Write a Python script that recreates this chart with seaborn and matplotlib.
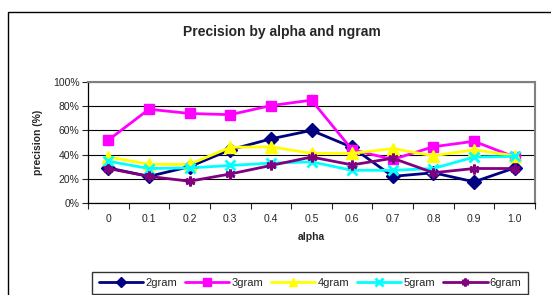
import matplotlib
matplotlib.use("Agg")
import matplotlib.pyplot as plt
from matplotlib.patches import Rectangle
from matplotlib.ticker import FixedLocator, PercentFormatter
import numpy as np
import pandas as pd
import seaborn as sns

alpha_labels = ["0", "0.1", "0.2", "0.3", "0.4", "0.5", "0.6", "0.7", "0.8", "0.9", "1.0"]
gram_2 = [29, 22, 30, 44, 53, 60, 46, 22, 25, 17.5, 29]
gram_3 = [52, 77.5, 74, 73, 80.5, 85, 44, 36, 46.5, 51, 38]
gram_4 = [38, 32, 32, 46, 46.5, 41, 41, 45, 39, 44, 39]
gram_5 = [34.5, 28.5, 29, 31, 33, 34, 27, 27, 28.5, 38, 38.5]
gram_6 = [28.5, 22, 18, 24, 31, 38, 31.5, 37, 25, 28.5, 28.5]

series = {"2gram": gram_2, "3gram": gram_3, "4gram": gram_4, "5gram": gram_5, "6gram": gram_6}
colors = {"2gram": "#000080", "3gram": "#FF00FF", "4gram": "#FFFF00",
          "5gram": "#00FFFF", "6gram": "#800080"}
markers = {"2gram": "D", "3gram": "s", "4gram": "^", "5gram": "x", "6gram": (6, 2, 0)}

rows = []
for name, vals in series.items():
    for i, v in enumerate(vals):
        rows.append({"pos": i, "ngram": name, "precision": v})
df = pd.DataFrame(rows)

sns.set_style("white")
plt.rcParams["font.family"] = ["Liberation Sans", "DejaVu Sans"]

fig = plt.figure(figsize=(5.51, 2.95), dpi=100)
ax = fig.add_axes([88 / 551, 1 - 203 / 295, (535 - 88) / 551, (203 - 82) / 295])

# outer chart frame
fig.patches.append(Rectangle((8 / 551, -0.1), 1.2, 1 - 12 / 295 + 0.1,
                             transform=fig.transFigure, fill=False,
                             edgecolor="black", linewidth=1.0))

for name in series:
    sub = df[df["ngram"] == name]
    sns.lineplot(data=sub, x="pos", y="precision", ax=ax, color=colors[name],
                 marker=markers[name], markersize=7 if name != "4gram" else 8,
                 markeredgecolor=colors[name], markeredgewidth=2 if name in ("5gram", "6gram") else 1,
                 linewidth=2, label=name)

ax.set_xlim(-0.5, 10.5)
ax.set_ylim(0, 100)
ax.set_yticks(np.arange(0, 101, 20))
ax.yaxis.set_major_formatter(PercentFormatter(decimals=0))
ax.set_xticks(range(len(alpha_labels)))
ax.set_xticklabels(alpha_labels)
ax.xaxis.set_minor_locator(FixedLocator(np.arange(-0.5, 11, 1)))
ax.tick_params(axis="x", which="major", length=0, pad=8, labelsize=7.5)
ax.tick_params(axis="x", which="minor", length=4, width=0.8, direction="out", bottom=True)
ax.tick_params(axis="y", length=4, width=0.8, direction="out", left=True, labelsize=7.5, pad=2)
ax.grid(axis="y", color="black", linewidth=0.8)
ax.set_axisbelow(True)
for side in ("left", "bottom"):
    ax.spines[side].set_color("black")
    ax.spines[side].set_linewidth(0.9)
for side in ("top", "right"):
    ax.spines[side].set_color("#808080")
    ax.spines[side].set_linewidth(1.5)

ax.set_xlabel("alpha", fontsize=7.5, fontweight="bold", labelpad=6)
ax.set_ylabel("precision (%)", fontsize=7.5, fontweight="bold", labelpad=7)
fig.text(282 / 551, 1 - 32 / 295, "Precision by alpha and ngram", ha="center", va="center",
         fontsize=10, fontweight="bold")

ax.legend(loc="center", bbox_to_anchor=(310 / 551, 1 - 283 / 295), bbox_transform=fig.transFigure,
          ncol=5, fontsize=8, frameon=True, fancybox=False, edgecolor="black",
          handlelength=4.0, columnspacing=0.7, handletextpad=0.2, borderpad=0.55,
          markerscale=0.8)

fig.savefig("out.png", dpi=100, facecolor="white")
